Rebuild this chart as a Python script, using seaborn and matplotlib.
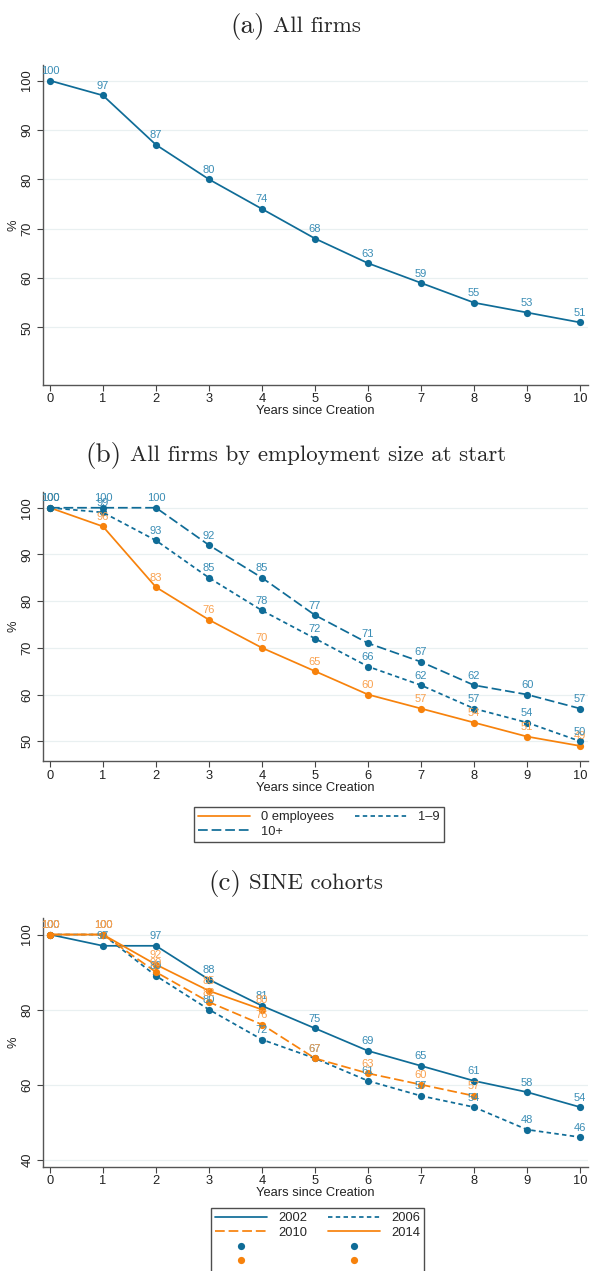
import matplotlib
matplotlib.use("Agg")
import matplotlib.pyplot as plt
import seaborn as sns
import pandas as pd
from matplotlib.lines import Line2D

# ---- data -----------------------------------------------------------------
years = list(range(11))

all_firms = [100, 97, 87, 80, 74, 68, 63, 59, 55, 53, 51]

size_labels = ["0 employees", "1\u20139", "10+"]
size_0 = [100, 96, 83, 76, 70, 65, 60, 57, 54, 51, 49]
size_1_9 = [100, 99, 93, 85, 78, 72, 66, 62, 57, 54, 50]
size_10p = [100, 100, 100, 92, 85, 77, 71, 67, 62, 60, 57]

cohort_labels = ["2002", "2006", "2010", "2014"]
cohort_2002 = [100, 97, 97, 88, 81, 75, 69, 65, 61, 58, 54]
cohort_2006 = [100, 100, 89, 80, 72, 67, 61, 57, 54, 48, 46]
cohort_2010 = [100, 100, 90, 82, 76, 67, 63, 60, 57]
cohort_2014 = [100, 100, 92, 85, 80]

titles = [("(a)", "All firms"),
          ("(b)", "All firms by employment size at start"),
          ("(c)", "SINE cohorts")]

# ---- style ----------------------------------------------------------------
sns.set_style("ticks")
plt.rcParams["font.family"] = ["Liberation Sans", "DejaVu Sans"]
plt.rcParams["lines.scale_dashes"] = False

BLUE = "#0f6c97"
BLUE_TXT = "#3a8db5"
ORANGE = "#f7820c"
ORANGE_TXT = "#f9a14f"
SOLID = "-"
SHORT = (0, (3.2, 2.4))
LONG = (0, (7.0, 2.8))
FS = 9.3

fig = plt.figure(figsize=(5.91, 12.71), dpi=100)

ax_a = fig.add_axes([0.0728, 0.697, 0.9222, 0.252])
ax_b = fig.add_axes([0.0728, 0.401, 0.9222, 0.212])
ax_c = fig.add_axes([0.0728, 0.082, 0.9222, 0.196])


def draw_series(ax, xs, ys, color, txt_color, ls):
    df = pd.DataFrame({"x": xs, "y": ys})
    sns.lineplot(data=df, x="x", y="y", ax=ax, color=color, linewidth=1.25,
                 linestyle=ls, marker="o", markersize=5.2,
                 markeredgewidth=0, markerfacecolor=color, legend=False)
    for xv, yv in zip(xs, ys):
        ax.annotate(f"{yv}", (xv, yv), xytext=(0, 3.2),
                    textcoords="offset points", ha="center", va="bottom",
                    fontsize=8, color=txt_color, annotation_clip=False)


def style_axes(ax, yticks, ylim):
    ax.set_xlim(-0.13, 10.15)
    ax.set_ylim(*ylim)
    ax.set_xticks(years)
    ax.set_yticks(yticks)
    ax.set_yticklabels([str(t) for t in yticks], rotation=90, va="center")
    ax.yaxis.grid(True, color="#e9f0f1", linewidth=0.9)
    ax.xaxis.grid(False)
    ax.set_axisbelow(True)
    sns.despine(ax=ax)
    for s in ("left", "bottom"):
        ax.spines[s].set_color("#555555")
        ax.spines[s].set_linewidth(1.0)
    ax.tick_params(axis="both", labelsize=FS, length=4, width=0.8,
                   color="#444444", pad=2, labelcolor="#222222")
    ax.tick_params(axis="y", pad=3)
    ax.set_xlabel("Years since Creation", fontsize=FS, labelpad=0,
                  color="#222222")
    ax.set_ylabel("%", fontsize=FS, labelpad=1, color="#222222")


# panel (a)
draw_series(ax_a, years, all_firms, BLUE, BLUE_TXT, SOLID)
style_axes(ax_a, [50, 60, 70, 80, 90, 100], (38.3, 103.2))

# panel (b)
draw_series(ax_b, years, size_0, ORANGE, ORANGE_TXT, SOLID)
draw_series(ax_b, years, size_1_9, BLUE, BLUE_TXT, SHORT)
draw_series(ax_b, years, size_10p, BLUE, BLUE_TXT, LONG)
style_axes(ax_b, [50, 60, 70, 80, 90, 100], (45.7, 103.4))

h_b = [Line2D([], [], color=ORANGE, lw=1.25, ls=SOLID),
       Line2D([], [], color=BLUE, lw=1.25, ls=LONG),
       Line2D([], [], color=BLUE, lw=1.25, ls=SHORT)]
l_b = [size_labels[0], size_labels[2], size_labels[1]]
leg_b = ax_b.legend(h_b, l_b, ncol=2, loc="upper center",
                    bbox_to_anchor=(0.540, 0.370), bbox_transform=fig.transFigure,
                    fontsize=FS, frameon=True, fancybox=False, handlelength=4.0,
                    columnspacing=1.6, handletextpad=0.9, borderpad=0.3,
                    labelspacing=0.2)
leg_b.get_frame().set_edgecolor("#222222")
leg_b.get_frame().set_linewidth(1.0)

# panel (c)
draw_series(ax_c, years, cohort_2002, BLUE, BLUE_TXT, SOLID)
draw_series(ax_c, years, cohort_2006, BLUE, BLUE_TXT, SHORT)
draw_series(ax_c, years[:len(cohort_2010)], cohort_2010, ORANGE, ORANGE_TXT, LONG)
draw_series(ax_c, years[:len(cohort_2014)], cohort_2014, ORANGE, ORANGE_TXT, SOLID)
style_axes(ax_c, [40, 60, 80, 100], (38.1, 104.5))


def dot(color):
    return Line2D([], [], color=color, lw=0, marker="o", markersize=5.2,
                  markeredgewidth=0)


h_c = [Line2D([], [], color=BLUE, lw=1.25, ls=SOLID),
       Line2D([], [], color=ORANGE, lw=1.25, ls=LONG),
       dot(BLUE), dot(ORANGE),
       Line2D([], [], color=BLUE, lw=1.25, ls=SHORT),
       Line2D([], [], color=ORANGE, lw=1.25, ls=SOLID),
       dot(BLUE), dot(ORANGE)]
l_c = [cohort_labels[0], cohort_labels[2], "", "",
       cohort_labels[1], cohort_labels[3], "", ""]
leg_c = ax_c.legend(h_c, l_c, ncol=2, loc="upper center",
                    bbox_to_anchor=(0.538, 0.0545), bbox_transform=fig.transFigure,
                    fontsize=FS, frameon=True, fancybox=False, handlelength=4.0,
                    columnspacing=1.6, handletextpad=0.9, borderpad=0.3,
                    labelspacing=0.2)
leg_c.get_frame().set_edgecolor("#222222")
leg_c.get_frame().set_linewidth(1.0)

# panel titles: larger letter tag followed by the caption text
renderer = fig.canvas.get_renderer()
for (tag, text), ypos in zip(titles, [0.979, 0.642, 0.305]):
    t1 = fig.text(0, ypos, tag, fontsize=19.5, family="cmr10", va="center")
    t2 = fig.text(0, ypos, text, fontsize=16.5, family="cmr10", va="center")
    w1 = t1.get_window_extent(renderer).width
    w2 = t2.get_window_extent(renderer).width
    gap = 8
    total = w1 + gap + w2
    x0 = (fig.bbox.width - total) / 2
    t1.set_x(x0 / fig.bbox.width)
    t2.set_x((x0 + w1 + gap) / fig.bbox.width)

fig.savefig("out.png", dpi=100)
